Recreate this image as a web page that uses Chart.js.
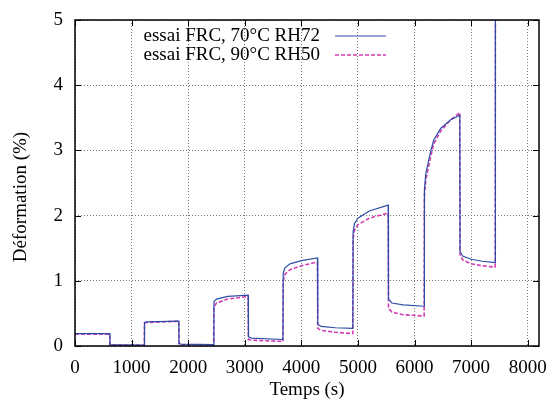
<!DOCTYPE html>
<html>
<head>
<meta charset="utf-8">
<script src="https://cdn.jsdelivr.net/npm/chart.js@4/dist/chart.umd.min.js"></script>
<style>
  html, body { margin: 0; padding: 0; background: #fff; }
  #wrap { width: 550px; height: 405px; position: relative; }
</style>
</head>
<body>
<div id="wrap"><canvas id="c"></canvas></div>
<script>
// === DATA ===
// Blue series: essai FRC, 70°C RH72
var tBlue = [0, 615, 618, 1225, 1228, 1260, 1835, 1838, 1870, 2450, 2455, 2500, 2700, 3060,
  3065, 3120, 3675, 3680, 3710, 3800, 4000, 4285, 4290, 4350, 4600, 4910, 4915, 4940, 5000, 5200, 5535,
  5540, 5600, 5800, 6170, 6175, 6200, 6290, 6340, 6465, 6640, 6800, 6805, 6850, 7000, 7200, 7425, 7430];
var defBlue = [0.19, 0.19, 0.02, 0.015, 0.36, 0.37, 0.38, 0.04, 0.03, 0.02, 0.68, 0.72, 0.76, 0.78,
  0.14, 0.12, 0.10, 1.12, 1.20, 1.26, 1.31, 1.35, 0.33, 0.30, 0.28, 0.27, 1.75, 1.88, 1.96, 2.07, 2.16,
  0.72, 0.66, 0.63, 0.61, 2.40, 2.65, 3.00, 3.16, 3.34, 3.47, 3.54, 1.45, 1.38, 1.33, 1.30, 1.28, 6.0];

// Magenta series: essai FRC, 90°C RH50
var tMag = tBlue;
var defMag = [0.18, 0.18, 0.01, 0.01, 0.35, 0.36, 0.38, 0.03, 0.02, 0.01, 0.60, 0.66, 0.72, 0.76,
  0.10, 0.09, 0.07, 1.00, 1.10, 1.17, 1.23, 1.29, 0.27, 0.24, 0.21, 0.19, 1.65, 1.78, 1.86, 1.96, 2.04,
  0.58, 0.52, 0.48, 0.46, 2.30, 2.55, 2.92, 3.10, 3.30, 3.47, 3.58, 1.40, 1.32, 1.26, 1.23, 1.21, 6.0];

var seriesLabels = ['essai FRC, 70°C RH72', 'essai FRC, 90°C RH50'];
var xTicks = [0, 1000, 2000, 3000, 4000, 5000, 6000, 7000, 8000];
var yTicks = [0, 1, 2, 3, 4, 5];

var BLUE = '#2e4ca6';
var MAGENTA = '#d23cb4';
var FONT = '"Liberation Serif", "Times New Roman", serif';
var FSIZE = 19;

function pts(ts, ys) {
  return ts.map(function(t, i) { return { x: t, y: ys[i] }; });
}

// frame, inward ticks, y title and legend drawn the gnuplot way
var gnuplotDecor = {
  id: 'gnuplotDecor',
  afterDraw: function(chart) {
    var ctx = chart.ctx, a = chart.chartArea;
    var xs = chart.scales.x, ys = chart.scales.y;
    ctx.save();
    ctx.strokeStyle = '#000';
    ctx.lineWidth = 1;
    ctx.setLineDash([]);
    ctx.beginPath();
    xTicks.forEach(function(v) {
      var px = Math.round(xs.getPixelForValue(v)) + 0.5;
      ctx.moveTo(px, a.bottom); ctx.lineTo(px, a.bottom - 6);
      ctx.moveTo(px, a.top); ctx.lineTo(px, a.top + 6);
    });
    yTicks.forEach(function(v) {
      var py = Math.round(ys.getPixelForValue(v)) + 0.5;
      ctx.moveTo(a.left, py); ctx.lineTo(a.left + 6, py);
      ctx.moveTo(a.right, py); ctx.lineTo(a.right - 6, py);
    });
    ctx.stroke();
    ctx.lineWidth = 1.5;
    ctx.strokeRect(a.left, a.top, a.right - a.left, a.bottom - a.top);

    // y axis title
    ctx.fillStyle = '#000';
    ctx.font = FSIZE + 'px ' + FONT;
    ctx.textAlign = 'center';
    ctx.textBaseline = 'middle';
    ctx.save();
    ctx.translate(21, 197);
    ctx.rotate(-Math.PI / 2);
    ctx.fillText('Déformation (%)', 0, 0);
    ctx.restore();

    // legend: text right aligned, sample to the right
    var colors = [BLUE, MAGENTA];
    var dashes = [[], [4, 2]];
    ctx.textAlign = 'right';
    seriesLabels.forEach(function(lbl, i) {
      var y = 36 + i * 19;
      ctx.fillStyle = '#000';
      ctx.fillText(lbl, 320, y);
      ctx.strokeStyle = colors[i];
      ctx.lineWidth = i === 0 ? 1.2 : 1.5;
      ctx.setLineDash(dashes[i]);
      ctx.beginPath();
      ctx.moveTo(335, y); ctx.lineTo(386, y);
      ctx.stroke();
    });
    ctx.restore();
  }
};

new Chart(document.getElementById('c').getContext('2d'), {
  type: 'line',
  data: {
    datasets: [{
      label: seriesLabels[0],
      data: pts(tBlue, defBlue),
      borderColor: BLUE, borderWidth: 1.2,
      pointRadius: 0, tension: 0, fill: false
    }, {
      label: seriesLabels[1],
      data: pts(tMag, defMag),
      borderColor: MAGENTA, borderWidth: 1.6, borderDash: [4, 2],
      pointRadius: 0, tension: 0, fill: false
    }]
  },
  options: {
    responsive: true, maintainAspectRatio: false, animation: false,
    layout: { padding: { top: 20, right: 11, left: 0, bottom: 0 } },
    plugins: { legend: { display: false }, tooltip: { enabled: false } },
    scales: {
      x: {
        type: 'linear', min: 0, max: 8200,
        afterBuildTicks: function(s) { s.ticks = xTicks.map(function(v) { return { value: v }; }); },
        afterFit: function(s) { s.height = 59; s.paddingLeft = 0; s.paddingRight = 0; },
        border: { display: false, dash: [1, 2] },
        grid: { color: '#777', lineWidth: 1, drawTicks: false },
        ticks: {
          padding: 11, color: '#000', maxRotation: 0, font: { family: FONT, size: FSIZE },
          callback: function(v) { return String(v); }
        },
        title: { display: true, text: 'Temps (s)', color: '#000', padding: { top: 1 }, font: { family: FONT, size: FSIZE } }
      },
      y: {
        type: 'linear', min: 0, max: 5,
        afterBuildTicks: function(s) { s.ticks = yTicks.map(function(v) { return { value: v }; }); },
        afterFit: function(s) { s.width = 75; s.paddingTop = 0; s.paddingBottom = 0; },
        border: { display: false, dash: [1, 2] },
        grid: { color: '#777', lineWidth: 1, drawTicks: false },
        ticks: {
          padding: 12, color: '#000', font: { family: FONT, size: FSIZE },
          callback: function(v) { return String(v); }
        }
      }
    }
  },
  plugins: [gnuplotDecor]
});
</script>
</body>
</html>
